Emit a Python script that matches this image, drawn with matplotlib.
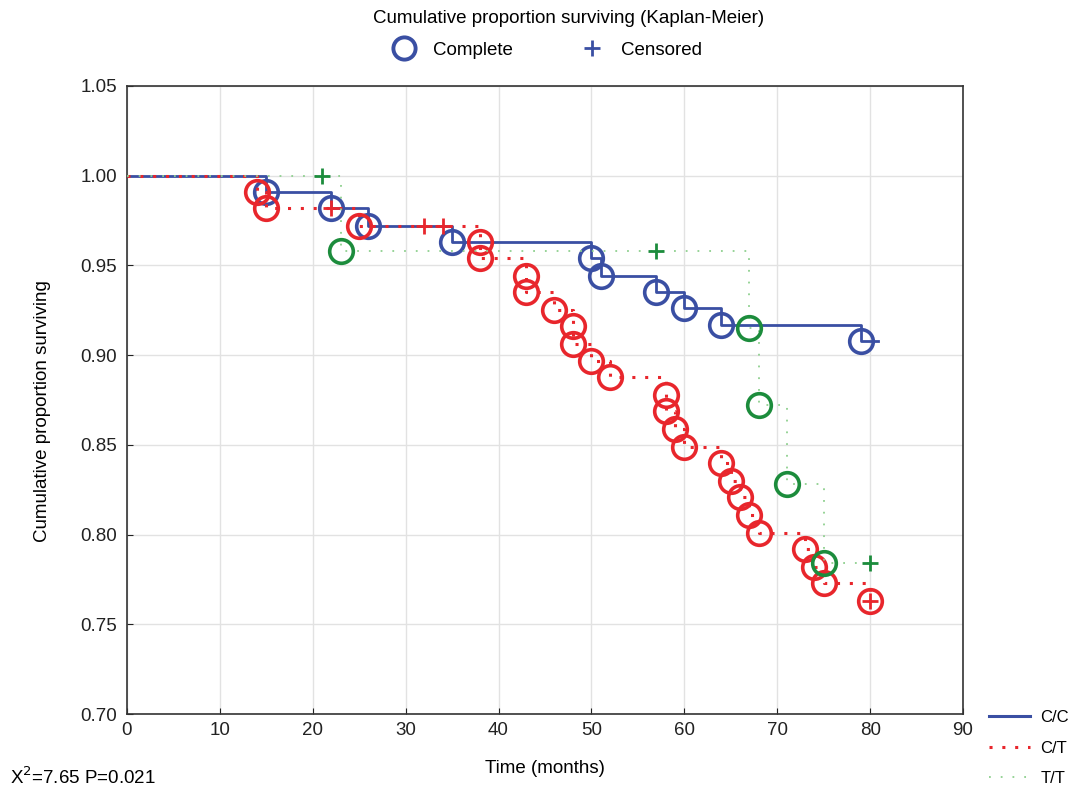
import numpy as np
import matplotlib
matplotlib.use("Agg")
import matplotlib.pyplot as plt
from matplotlib.lines import Line2D

plt.rcParams['font.family'] = ['Liberation Sans', 'DejaVu Sans']

# C/C group: event times (complete) and survival after each event
cc_event_t = [15, 22, 26, 35, 50, 51, 57, 60, 64, 79]
cc_event_s = [0.991, 0.982, 0.972, 0.963, 0.954, 0.944, 0.935, 0.926, 0.917, 0.908]
cc_last_t = 80.8

# C/T group
ct_event_t = [14, 15, 25, 38, 38, 43, 43, 46, 48, 48, 50, 52, 58, 58, 59, 60,
              64, 65, 66, 67, 68, 73, 74, 75, 80]
ct_event_s = [0.991, 0.982, 0.972, 0.963, 0.954, 0.944, 0.935, 0.925, 0.916,
              0.906, 0.897, 0.888, 0.878, 0.869, 0.859, 0.849, 0.840, 0.830,
              0.821, 0.811, 0.801, 0.792, 0.782, 0.773, 0.763]
ct_cens_t = [22, 32, 34, 80]
ct_cens_s = [0.982, 0.972, 0.972, 0.763]
ct_last_t = 80

# T/T group
tt_event_t = [23, 67, 68, 71, 75]
tt_event_s = [0.958, 0.915, 0.872, 0.828, 0.784]
tt_cens_t = [21, 57, 80]
tt_cens_s = [1.0, 0.958, 0.784]
tt_last_t = 80

blue = '#3a4fa3'
red = '#e8262c'
green = '#1c8c3c'
green_line = '#8fd08f'
fs = 13.5


def step_xy(ev_t, ev_s, last_t):
    # build a post-step curve starting at (0, 1)
    xs = [0] + list(ev_t) + [last_t]
    ys = [1.0] + list(ev_s) + [ev_s[-1]]
    return xs, ys


fig = plt.figure(figsize=(10.76, 7.86), dpi=100)
ax = fig.add_axes([0.118, 0.0916, 0.777, 0.7990])

# curves
x, y = step_xy(cc_event_t, cc_event_s, cc_last_t)
ax.step(x, y, where='post', color=blue, lw=2.0, zorder=3)
x, y = step_xy(ct_event_t, ct_event_s, ct_last_t)
ax.step(x, y, where='post', color=red, lw=2.2, dashes=(1, 3.2), zorder=4)
x, y = step_xy(tt_event_t, tt_event_s, tt_last_t)
ax.step(x, y, where='post', color=green_line, lw=1.3, dashes=(1, 5.5), zorder=5)

# markers
ax.plot(cc_event_t, cc_event_s, 'o', ms=17, mfc='none', mec=blue, mew=2.6, zorder=3)
ax.plot(ct_event_t, ct_event_s, 'o', ms=17, mfc='none', mec=red, mew=2.6, zorder=4)
ax.plot(ct_cens_t, ct_cens_s, '+', ms=11, color=red, mew=2.0, zorder=4)
ax.plot(tt_event_t, tt_event_s, 'o', ms=17, mfc='none', mec=green, mew=2.6, zorder=5)
ax.plot(tt_cens_t, tt_cens_s, '+', ms=11, color=green, mew=2.0, zorder=5)

ax.set_xlim(0, 90)
ax.set_ylim(0.70, 1.05)
ax.set_xticks(np.arange(0, 91, 10))
ax.set_yticks(np.arange(0.70, 1.051, 0.05))
ax.set_yticklabels(['%.2f' % v for v in np.arange(0.70, 1.051, 0.05)])
ax.grid(True, color='#e2e2e2', lw=1.0)
ax.set_axisbelow(True)
ax.tick_params(direction='in', length=4, labelsize=fs, colors='#222222')
ax.tick_params(axis='x', pad=6)
ax.tick_params(axis='y', pad=7)
for sp in ax.spines.values():
    sp.set_color('#333333')
    sp.set_linewidth(1.2)

ax.set_xlabel('Time (months)', fontsize=fs)
ax.xaxis.set_label_coords(0.5, -0.073)
ax.set_ylabel('Cumulative proportion surviving', fontsize=fs)
ax.yaxis.set_label_coords(-0.091, 0.483)

fig.text(0.528, 0.977, 'Cumulative proportion surviving (Kaplan-Meier)',
         ha='center', va='center', fontsize=fs)

top_handles = [
    Line2D([], [], ls='none', marker='o', ms=16, mfc='none', mec=blue, mew=2.8),
    Line2D([], [], ls='none', marker='+', ms=12, color=blue, mew=2.0),
]
fig.legend(top_handles, ['Complete', 'Censored'], loc='center',
           bbox_to_anchor=(0.505, 0.936), ncol=2, frameon=False,
           fontsize=fs, handlelength=2.0, columnspacing=3.2, handletextpad=0.55)

line_handles = [
    Line2D([], [], color=blue, lw=2.2),
    Line2D([], [], color=red, lw=2.2, dashes=(1, 3.2)),
    Line2D([], [], color=green_line, lw=1.3, dashes=(1, 5.5)),
]
fig.legend(line_handles, ['C/C', 'C/T', 'T/T'], loc='lower left',
           bbox_to_anchor=(0.905, -0.0195), frameon=False, fontsize=12,
           handlelength=2.5, labelspacing=0.93, handletextpad=0.6)

fig.text(0.009, -0.002, 'X$^2$=7.65 P=0.021', ha='left', va='bottom', fontsize=fs)

fig.savefig('out.png', dpi=100)
